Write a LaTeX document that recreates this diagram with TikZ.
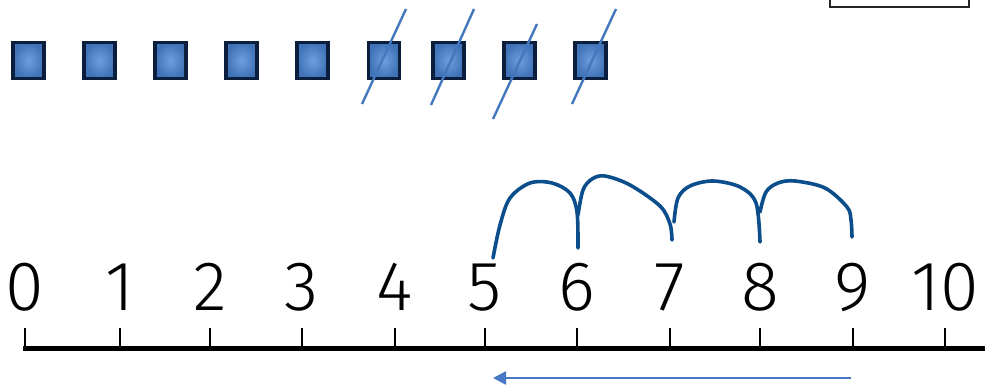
\documentclass[tikz,border=0pt]{standalone}
\usepackage{fontspec}
\newfontfamily\digitfont{Fira Sans Light}
\usetikzlibrary{arrows.meta}
\definecolor{sqfill}{RGB}{74,134,214}
\definecolor{sqedge}{RGB}{12,30,62}
\definecolor{slashc}{RGB}{68,120,190}
\definecolor{jumpc}{RGB}{12,78,140}
\definecolor{arrowc}{RGB}{70,120,195}
\tikzset{
  sqbox/.style={draw=sqedge, line width=3.5pt, inner color=sqfill!80!white, outer color=sqfill!85!black, minimum width=31pt, minimum height=36pt, inner sep=0pt},
  slashline/.style={draw=slashc, line width=2.4pt},
  jumpline/.style={draw=jumpc, line width=3.6pt, line cap=round, line join=round},
  digit/.style={font=\digitfont\fontsize{70}{70}\selectfont, anchor=base, inner sep=0pt},
  tick/.style={line width=1.8pt},
  axisline/.style={line width=5pt},
}
\begin{document}
\begin{tikzpicture}[x=1pt,y=-1pt]
\useasboundingbox (0,0) rectangle (985,385);
\fill[white] (0,0) rectangle (985,385);
% squares
\foreach \i/\x in {1/28.5,2/99.5,3/170.5,4/241.5,5/312.5,6/384,7/448.5,8/519.5,9/590.5}{
  \node[sqbox] (s\i) at (\x,60.5) {};
}
% crossing strokes
\draw[slashline] (362,104) -- (406,9);
\draw[slashline] (431,105) -- (474,9);
\draw[slashline] (493,119) -- (537,24);
\draw[slashline] (572,104) -- (616,9);
% box top right
\draw[line width=2pt, draw=black!85] (830,-5) rectangle (969,7);
% number line
\coordinate (L) at (23,348);
\coordinate (R) at (985,348);
\draw[axisline] (L) -- (R);
\foreach \n/\x in {0/25,1/120,2/210,3/302,4/395,5/485,6/577,7/670,8/760,9/853,10/945}{
  \coordinate (t\n) at (\x,348);
  \coordinate (tt\n) at (\x,328);
  \draw[tick] (t\n) -- (tt\n);
  \node[digit] (d\n) at (\x,310) {\n};
}
% jumps
\coordinate (j5) at (493,258);
\coordinate (j6) at (578,248);
\coordinate (j6b) at (578,215);
\coordinate (j7) at (672,240);
\coordinate (j7b) at (674,222);
\coordinate (j8) at (760,242);
\coordinate (j8b) at (760,212);
\coordinate (j9) at (852,237);
\draw[jumpline] plot[smooth, tension=0.55] coordinates {(j5) (500,225) (510,198) (530,183) (552,183) (570,193) (577,212) (j6)};
\draw[jumpline] plot[smooth, tension=0.55] coordinates {(j6b) (583,190) (592,179) (605,176) (630,185) (660,206) (670,224) (j7)};
\draw[jumpline] plot[smooth, tension=0.55] coordinates {(j7b) (678,198) (690,186) (713,181) (740,187) (756,203) (j8)};
\draw[jumpline] plot[smooth, tension=0.55] coordinates {(j8b) (766,192) (778,183) (795,181) (825,188) (847,207) (851,220) (j9)};
% arrow
\coordinate (a1) at (851,378);
\coordinate (a2) at (493,378);
\draw[draw=arrowc, line width=2.6pt, -{Triangle[length=13pt,width=13pt]}] (a1) -- (a2);
\end{tikzpicture}
\end{document}
